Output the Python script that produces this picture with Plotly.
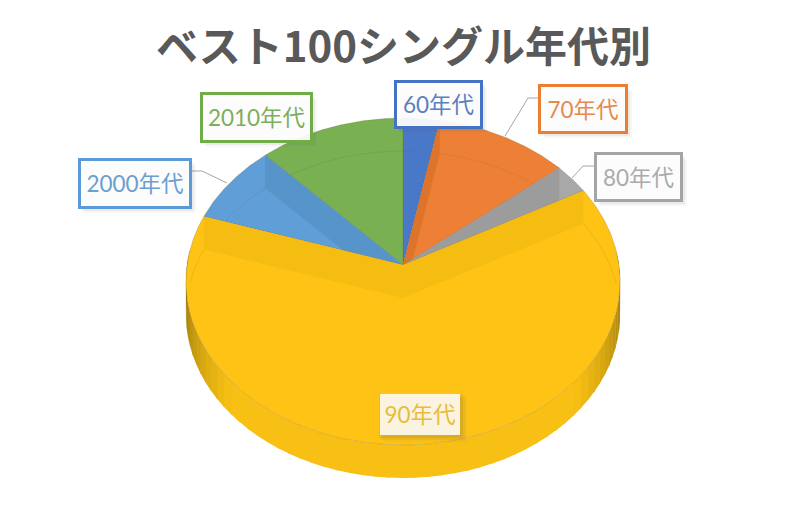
import numpy as np
import plotly.graph_objects as go

# データ
decades = ["60年代", "70年代", "80年代", "90年代", "2000年代", "2010年代"]
counts = [3, 11, 3, 63, 8, 12]
title_text = "ベスト100シングル年代別"

top_colors = ["#4A78C8", "#ED8036", "#A8A8A8", "#FEC314", "#609ED8", "#78B052"]
wall_colors = ["#3E68B0", "#DE742C", "#9C9C9C", "#F5BD12", "#5694C9", "#6DA248"]
text_colors = ["#5A80C2", "#E58A4E", "#ABABAB", "#E8BC3C", "#6A9FD0", "#7CAE5C"]
border_colors = ["#4472C4", "#ED7D31", "#A5A5A5", None, "#5B9BD5", "#70AD47"]

FONT = "Lato, 'Noto Sans CJK JP', sans-serif"

# 疑似3Dの円盤(透視あり)
CX, CY = 403, 265
RX, RY, PERSP = 216, 161.8, 0.101
DROP = 33

# ラベル枠 (x0, x1, y0, y1)
boxes = [(395, 481, 81, 127), (539, 626, 85, 132), (595, 681, 153, 200),
         (378, 461, 392, 436), (79, 190, 159, 207), (201, 311, 93, 141)]
leaders = [([190, 202, 227], [171, 171, 183]),
           ([539, 528, 505], [98, 98, 136]),
           ([595, 583, 572], [166, 166, 178])]


def rim(deg, drop=0):
    t = np.radians(deg)
    d = 1 + PERSP * np.cos(t)
    return CX + RX * np.sin(t) / d, CY - RY * np.cos(t) / d + drop


def poly(xs, ys, fill, line="rgba(0,0,0,0)", width=0):
    return go.Scatter(x=list(xs), y=list(ys), mode="lines", fill="toself", fillcolor=fill,
                      line=dict(color=line, width=width), hoverinfo="skip", showlegend=False)


def shade(frac):
    # 側面: 端は暗く中央は明るい
    c0, c1 = np.array([140, 110, 12]), np.array([248, 192, 20])
    r, g, b = (c0 + (c1 - c0) * frac).astype(int)
    return f"rgb({r},{g},{b})"


fig = go.Figure()

# 手前の側面
edges = np.linspace(85, 275, 61)
for a0, a1 in zip(edges[:-1], edges[1:]):
    seg = np.linspace(a0, a1 + 0.5, 4)
    x0, y0 = rim(seg)
    x1, y1 = rim(seg[::-1], DROP)
    off = abs((a0 + a1) / 2 - 180)
    frac = min(1.0, np.cos(np.radians(off)) * 1.5) if off < 90 else 0
    fig.add_trace(poly(np.r_[x0, x1, x0[0]], np.r_[y0, y1, y0[0]], shade(frac)))

# 各扇形の角度
shares = np.array(counts) / sum(counts) * 360
ends = np.cumsum(shares)
starts = ends - shares

# 奥から手前へ描く
for i in [0, 5, 4, 1, 2, 3]:
    a0, a1 = starts[i], ends[i]
    arc = np.linspace(a0, a1, max(8, int(a1 - a0) * 2))
    rx, ry = rim(arc)
    fig.add_trace(poly(np.r_[CX, rx, CX], np.r_[CY, ry, CY], top_colors[i], "rgba(120,100,50,0.35)", 0.7))

    # 透けて見える内側の壁
    wall_edges = []
    if 0 < a0 < 180:
        wall_edges.append(a0)
    if 180 < a1 < 360:
        wall_edges.append(a1)
    for e in wall_edges:
        ex, ey = rim(e)
        fig.add_trace(poly([CX, ex, ex, CX, CX], [CY, ey, ey + DROP, CY + DROP, CY], wall_colors[i]))

    # 底面の奥側の縁
    base = arc[(arc <= 85) | (arc >= 275)]
    if len(base) > 1:
        bx, by = rim(base, DROP)
        if a0 < 85 < a1 and a1 > 275:
            split = np.searchsorted(base, 180)
            bx = np.r_[bx[:split], np.nan, bx[split:]]
            by = np.r_[by[:split], np.nan, by[split:]]
        fig.add_trace(go.Scatter(x=bx, y=by, mode="lines", line=dict(color="rgba(110,90,40,0.14)", width=1),
                                 hoverinfo="skip", showlegend=False))

# 引き出し線
for lx, ly in leaders:
    fig.add_trace(go.Scatter(x=lx, y=ly, mode="lines", line=dict(color="#A6A6A6", width=1),
                             hoverinfo="skip", showlegend=False))

# ラベル(影+枠+文字)
shapes = []
annotations = []
for name, color, border, (x0, x1, y0, y1) in zip(decades, text_colors, border_colors, boxes):
    for off, alpha in [(6, 0.05), (4, 0.08), (2, 0.1)]:
        shapes.append(dict(type="rect", x0=x0 - 1 + off, x1=x1 + off, y0=y0 + off, y1=y1 + off,
                           fillcolor=f"rgba(90,90,90,{alpha})", line_width=0, layer="above"))
    annotations.append(dict(
        x=(x0 + x1) / 2, y=(y0 + y1) / 2, xref="x", yref="y", text=name, showarrow=False,
        xanchor="center", yanchor="middle", width=x1 - x0 - 3, height=y1 - y0 - 3, align="center",
        font=dict(family=FONT, size=22.5, color=color),
        bgcolor="rgba(255,255,255,0.92)" if border else "rgba(255,255,255,0.86)",
        bordercolor=border if border else "rgba(0,0,0,0)", borderwidth=3 if border else 0, borderpad=0,
    ))

fig.update_layout(
    width=807, height=505, margin=dict(l=0, r=0, t=0, b=0),
    paper_bgcolor="white", plot_bgcolor="white", showlegend=False,
    title=dict(text=title_text, x=0.5, xanchor="center", y=1 - 47 / 505, yanchor="middle",
               font=dict(family="'Noto Sans CJK JP', sans-serif", size=42, color="#595959", weight="bold")),
    xaxis=dict(range=[0, 807], visible=False, fixedrange=True),
    yaxis=dict(range=[505, 0], visible=False, fixedrange=True),
    shapes=shapes, annotations=annotations,
)

fig.write_html("out.html", config=dict(displayModeBar=False),
               post_script="document.body.style.margin='0';document.documentElement.style.overflow='hidden';")
